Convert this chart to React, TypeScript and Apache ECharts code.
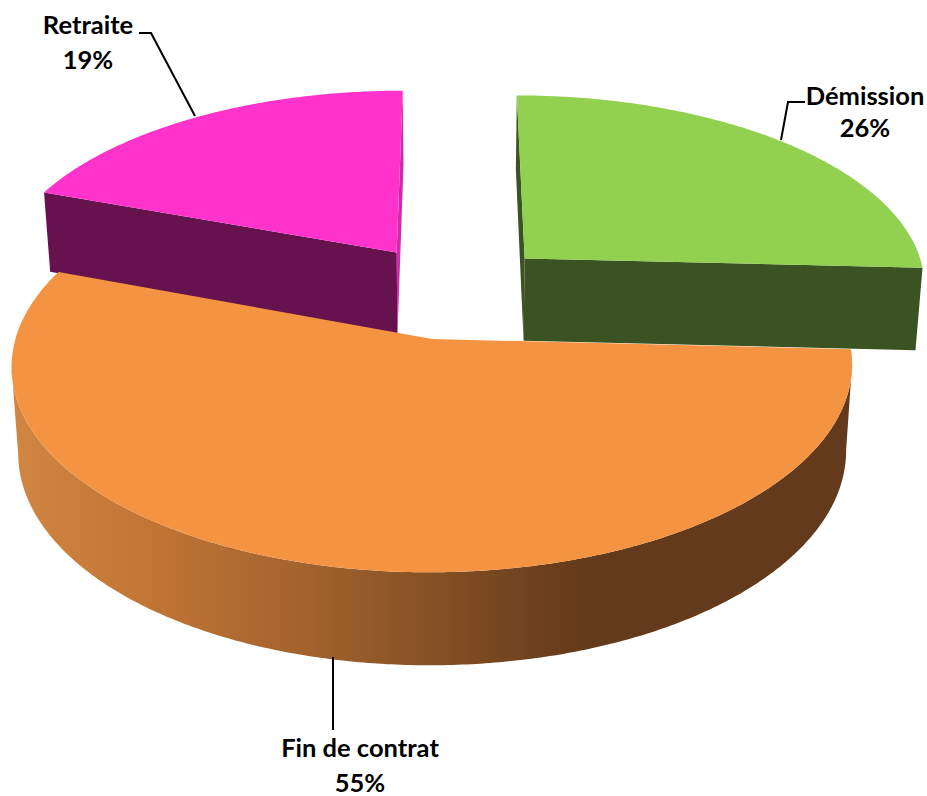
import React, { useEffect, useRef } from "react";
import * as echarts from "echarts";

const categories = ["Démission", "Fin de contrat", "Retraite"];
const shares = [25.8, 54.8, 19.4];

// Styles and layout
const topColors = ["#92d050", "#f49443", "#ff33cc"];
const wallColors = ["#3b5323", "#633a1b", "#65124f"];
const sideWallColors = ["#3b5323", "#633a1b", "#d22aae"];
const drawOrder = [2, 0, 1];
const labelCenters = [[865, 95], [360, 747], [88, 24]];
const percentCenters = [[865, 127], [360, 782], [88, 59]];
const leaders = [
  [[805, 102], [788, 102], [781, 140]],
  [[333, 657], [333, 730]],
  [[139, 33], [151, 33], [195, 116]],
];

const CX = 453, CY = 290.7, R = 404, H = 191, P = 0.125, SHRINK = 0.015, EXPLODE = 0.25;

function project(u: number, v: number, z: number): number[] {
  const w = 1 / (1 - P * v);
  const depth = z * (83.5 + 7.6 * v);
  return [CX + R * u * w * (1 - SHRINK * z), CY + H * v * w + depth];
}

function arc(a0: number, a1: number, ou: number, ov: number, z: number) {
  const pts: number[][] = [];
  const n = Math.max(8, Math.round(Math.abs(a1 - a0) / 0.01));
  for (let i = 0; i <= n; i++) {
    const a = a0 + ((a1 - a0) * i) / n;
    pts.push(project(ou + Math.sin(a), ov - Math.cos(a), z));
  }
  return pts;
}

function sliceParts(index: number) {
  const total = shares.reduce((s, x) => s + x, 0);
  let acc = 0;
  for (let i = 0; i < index; i++) acc += shares[i];
  const a0 = (acc / total) * Math.PI * 2;
  const a1 = ((acc + shares[index]) / total) * Math.PI * 2;
  const mid = (a0 + a1) / 2;
  return { a0, a1, ou: EXPLODE * Math.sin(mid), ov: -EXPLODE * Math.cos(mid) };
}

function poly(points: number[][], fill: any) {
  return { type: "polygon", shape: { points }, style: { fill, stroke: "none" } };
}

// The part of an arc between its rightmost and leftmost points: the visible outer wall
function silhouette(points: number[][]) {
  let right = 0, left = 0;
  points.forEach((p, i) => {
    if (p[0] > points[right][0]) right = i;
    if (p[0] < points[left][0]) left = i;
  });
  return points.slice(right, left + 1);
}

function renderSlice(_params: any, api: any) {
  const index = api.value(0) as number;
  const { a0, a1, ou, ov } = sliceParts(index);
  const apexTop = project(ou, ov, 0);
  const apexBot = project(ou, ov, 1);
  const top = arc(a0, a1, ou, ov, 0);
  const bot = arc(a0, a1, ou, ov, 1);
  const last = top.length - 1;
  const children: any[] = [];
  const cut = (p: number[], q: number[], fill: string) => poly([apexTop, p, q, apexBot], fill);
  if (index === 1) {
    const rim = new (echarts.graphic as any).LinearGradient(15, 0, 853, 0, [
      { offset: 0, color: "#d08642" },
      { offset: 0.16, color: "#c27535" },
      { offset: 0.38, color: "#9c5f2b" },
      { offset: 0.68, color: "#633a1b" },
      { offset: 1, color: "#633a1b" },
    ], true);
    children.push(poly([...silhouette(top), ...silhouette(bot).reverse()], rim));
  } else if (index === 2) {
    children.push(cut(top[last], bot[last], sideWallColors[index]));
    children.push(cut(top[0], bot[0], wallColors[index]));
  } else {
    children.push(cut(top[last], bot[last], wallColors[index]));
    children.push(cut(top[0], bot[0], sideWallColors[index]));
  }
  children.push(poly([apexTop, ...top], topColors[index]));
  return { type: "group", children };
}

const textStyle = { fontFamily: "Lato", fontWeight: 700 as const, fontSize: 25.5, fill: "#000", align: "center" as const, verticalAlign: "middle" as const };

export default function App() {
  const ref = useRef<HTMLDivElement>(null);
  useEffect(() => {
    const chart = echarts.init(ref.current!, undefined, { renderer: "svg" });
    chart.setOption({
      animation: false,
      backgroundColor: "#ffffff",
      series: [{
        type: "custom",
        coordinateSystem: "none",
        silent: true,
        renderItem: renderSlice,
        data: drawOrder.map((i) => [i, shares[i]]),
      }],
      graphic: categories.flatMap((name, i) => [
        { type: "polyline", z: 10, shape: { points: leaders[i] }, style: { stroke: "#000", lineWidth: 2, fill: "none" } },
        { type: "text", z: 10, x: labelCenters[i][0], y: labelCenters[i][1], style: { ...textStyle, text: name } },
        { type: "text", z: 10, x: percentCenters[i][0], y: percentCenters[i][1], style: { ...textStyle, text: `${Math.round(shares[i])}%` } },
      ]),
    });
    return () => chart.dispose();
  }, []);
  return <div ref={ref} style={{ position: "absolute", left: 0, top: 0, width: 927, height: 796 }} />;
}
